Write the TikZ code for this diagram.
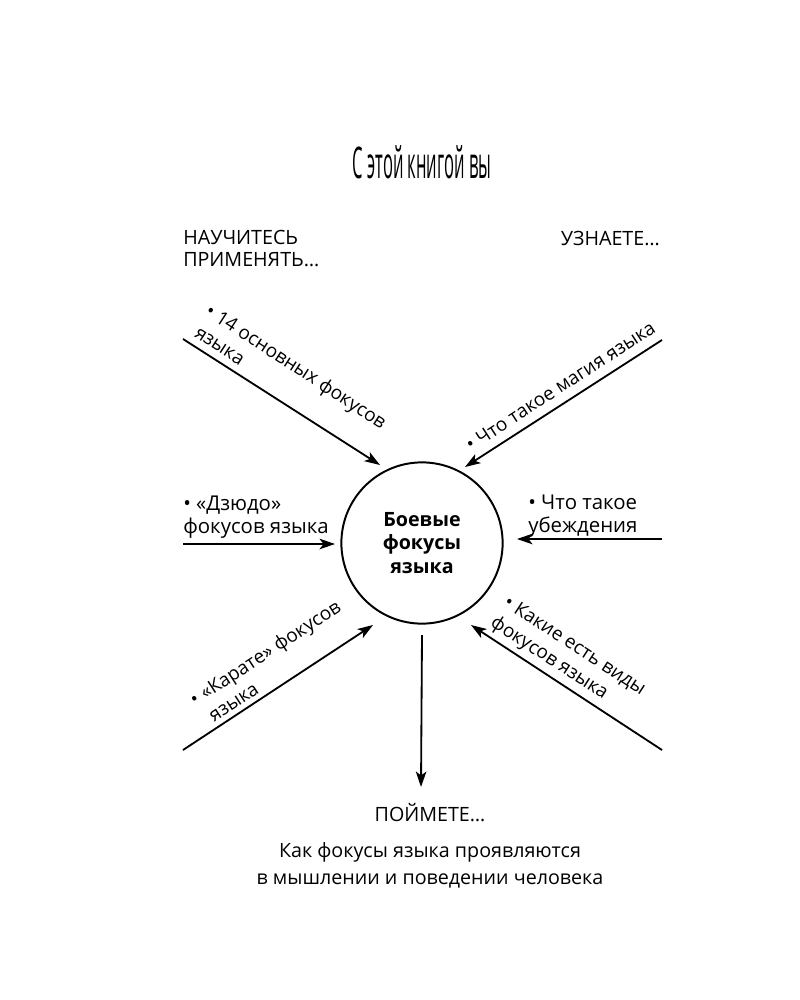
\documentclass[tikz,border=0pt]{standalone}
\usepackage{fontspec}
\setmainfont{Open Sans}
\usetikzlibrary{arrows.meta}

\tikzset{
  arr/.style={line width=1.3pt, -{Stealth[length=11pt,width=7.5pt,inset=2.8pt]}},
  lbl/.style={inner sep=0pt, align=left, font=\fontsize{14.5}{16}\selectfont},
  slant/.style={inner sep=0pt, align=left, font=\fontsize{13.5}{17}\selectfont},
  head/.style={inner sep=0pt, align=left, font=\fontsize{14}{15.6}\selectfont},
}

\begin{document}
\begin{tikzpicture}[x=0.025cm,y=-0.025cm]
\useasboundingbox (0,0) rectangle (800,1000);

% заголовок
\node[inner sep=0pt, anchor=base] (title) at (422,178)
  {\scalebox{0.38}[1]{\fontsize{31}{32}\selectfont С этой книгой вы}};

% заголовки групп
\node[head, anchor=north west] (learn) at (183,230) {НАУЧИТЕСЬ\\ПРИМЕНЯТЬ…};
\node[head, anchor=base east] (know) at (660,245) {УЗНАЕТЕ…};

% центральный круг
\node[circle, draw, line width=1.4pt, minimum size=4.03cm, align=center,
  font=\bfseries\fontsize{14}{17}\selectfont] (hub) at (422,543) {Боевые\\фокусы\\языка};

% концы стрелок
\coordinate (tlS) at (183,339);  \coordinate (tlE) at (380,465);
\coordinate (trS) at (662,340);  \coordinate (trE) at (465,467);
\coordinate (lS)  at (183,544);  \coordinate (lE)  at (335,544);
\coordinate (rS)  at (662,539);  \coordinate (rE)  at (517,539);
\coordinate (blS) at (183,750);  \coordinate (blE) at (373,625);
\coordinate (brS) at (662,750);  \coordinate (brE) at (471,625);
\coordinate (dE)  at (421,787);

\draw[arr] (tlS) -- (tlE);
\draw[arr] (trS) -- (trE);
\draw[arr] (lS) -- (lE);
\draw[arr] (rS) -- (rE);
\draw[arr] (blS) -- (blE);
\draw[arr] (brS) -- (brE);
\draw[arr] (hub.south |- 0,635) coordinate (dS) -- (dE);

% подписи у стрелок
\node[slant, anchor=north west, rotate=-33] (tlT) at (212,302) {• 14 основных фокусов\\\hspace*{2pt}языка};
\node[slant, anchor=base west, rotate=33] (trT) at (471,452) {• Что такое магия языка};
\node[lbl, anchor=north west] (lT) at (183,496) {• «Дзюдо»\\фокусов языка};
\node[lbl, anchor=north west] (rT) at (528,495) {• Что такое\\убеждения};
\node[slant, anchor=north west, rotate=33] (blT) at (187,694) {• «Карате» фокусов\\\hspace*{5pt}языка};
\node[slant, anchor=north west, rotate=-33] (brT) at (510,594) {• Какие есть виды\\фокусов языка};

% внизу
\node[head, anchor=base] (see) at (430,821) {ПОЙМЕТЕ…};
\node[lbl, anchor=north, align=center, font=\fontsize{14}{19.5}\selectfont] (how) at (430,842)
  {Как фокусы языка проявляются\\в мышлении и поведении человека};
\end{tikzpicture}
\end{document}
